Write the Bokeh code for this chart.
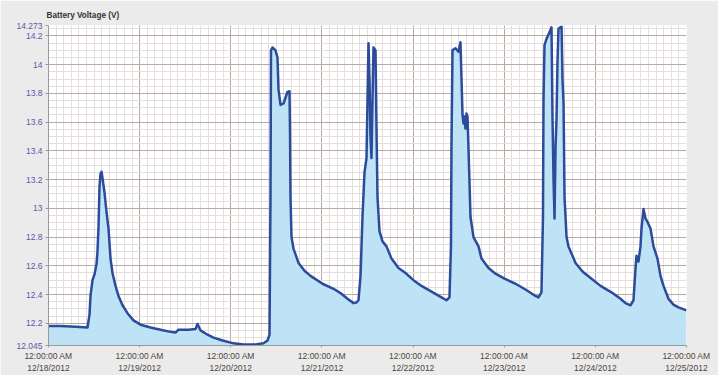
from bokeh.plotting import figure
from bokeh.models import Range1d, FixedTicker
from bokeh.embed import file_html
from bokeh.resources import INLINE

# Hours since 12:00:00 AM 12/18/2012
hours = [0, 3.16, 7.11, 10.27, 10.80, 11.06, 11.59, 12.11, 12.64, 12.90, 13.17, 13.43, 13.69, 13.96,
         14.22, 14.75, 15.27, 15.80, 16.33, 16.85, 17.64, 18.43, 19.49, 20.80, 22.38, 24.23, 26.86,
         29.49, 32.13, 33.44, 34.23, 36.87, 38.71, 39.24, 40.03, 41.87, 43.45, 45.82, 48.72, 51.35,
         54.51, 56.61, 57.67, 58.20, 58.46, 58.59, 58.98, 59.77, 60.30, 60.56, 61.09, 61.88, 62.93,
         63.46, 63.59, 63.72, 63.99, 64.51, 65.83, 67.41, 69.00, 72.15, 75.05, 76.89, 78.73, 80.31,
         81.10, 81.63, 82.16, 82.68, 83.21, 83.74, 84.00, 84.26, 84.53, 84.79, 85.05, 85.32, 85.58,
         86.11, 86.37, 86.63, 87.16, 87.95, 89.00, 90.32, 92.16, 94.01, 96.11, 98.22, 100.85, 103.48,
         104.80, 105.59, 105.98, 106.11, 106.38, 107.17, 107.96, 108.48, 108.75, 109.01, 109.28,
         109.54, 109.80, 110.07, 110.33, 110.59, 111.12, 111.91, 113.23, 114.02, 115.86, 117.70,
         120.07, 122.97, 125.60, 128.23, 129.02, 129.81, 130.21, 130.35, 130.61, 131.14, 131.93,
         132.45, 132.72, 132.98, 133.25, 133.51, 133.77, 134.04, 134.30, 135.09, 135.35, 135.62,
         135.88, 136.41, 136.93, 138.78, 140.62, 142.99, 145.36, 148.25, 150.62, 151.94, 153.25,
         154.04, 154.57, 154.83, 155.36, 155.89, 156.15, 156.68, 157.20, 157.73, 158.52, 159.31,
         160.36, 161.15, 161.94, 163.26, 164.57, 165.89, 166.94, 168.0]

volts = [12.18, 12.18, 12.175, 12.17, 12.26, 12.39, 12.50, 12.54, 12.61, 12.70, 12.87, 13.15, 13.24, 13.255,
         13.21, 13.11, 12.975, 12.86, 12.65, 12.55, 12.46, 12.39, 12.325, 12.27, 12.22, 12.19, 12.17,
         12.155, 12.14, 12.135, 12.155, 12.155, 12.16, 12.195, 12.15, 12.12, 12.10, 12.08, 12.06, 12.052,
         12.052, 12.06, 12.08, 12.12, 13.08, 14.10, 14.12, 14.10, 14.05, 13.83, 13.72, 13.73, 13.81,
         13.815, 13.555, 13.08, 12.80, 12.72, 12.62, 12.565, 12.53, 12.475, 12.44, 12.41, 12.37, 12.34,
         12.345, 12.36, 12.53, 12.94, 13.25, 13.35, 13.76, 14.15, 13.90, 13.49, 13.35, 13.76, 14.12,
         14.10, 13.555, 13.08, 12.84, 12.77, 12.735, 12.65, 12.585, 12.55, 12.50, 12.46, 12.42, 12.38,
         12.36, 12.38, 12.735, 13.42, 14.10, 14.115, 14.09, 14.157, 13.90, 13.66, 13.59,
         13.64, 13.555, 13.66, 13.64, 13.42, 12.94, 12.80, 12.735, 12.65, 12.585, 12.545,
         12.51, 12.475, 12.435, 12.39, 12.38, 12.415, 12.94, 13.76, 14.136, 14.18, 14.225,
         14.26, 13.62, 13.21, 12.93, 13.42, 13.62, 14.03, 14.25, 14.266, 13.90, 13.73,
         13.08, 12.80, 12.735, 12.62, 12.56, 12.51, 12.46, 12.415, 12.37, 12.34, 12.325,
         12.36, 12.58, 12.67, 12.63, 12.735, 12.86, 12.995, 12.93, 12.905, 12.86, 12.735,
         12.65, 12.53, 12.46, 12.37, 12.33, 12.31, 12.30, 12.29]

x_ticks = [0, 24, 48, 72, 96, 120, 144, 168]
x_tick_labels = ["12:00:00 AM\n12/18/2012", "12:00:00 AM\n12/19/2012", "12:00:00 AM\n12/20/2012",
                 "12:00:00 AM\n12/21/2012", "12:00:00 AM\n12/22/2012", "12:00:00 AM\n12/23/2012",
                 "12:00:00 AM\n12/24/2012", "12:00:00 AM\n12/25/2012"]
x_minor = list(range(0, 169, 2))
y_ticks = [12.045, 12.2, 12.4, 12.6, 12.8, 13.0, 13.2, 13.4, 13.6, 13.8, 14.0, 14.2, 14.273]
y_tick_labels = ["12.045", "12.2", "12.4", "12.6", "12.8", "13", "13.2", "13.4", "13.6", "13.8",
                 "14", "14.2", "14.273"]
y_minor = [round(12.05 + 0.05 * i, 2) for i in range(45)]
Y_MIN, Y_MAX = 12.045, 14.273

p = figure(width=718, height=375, output_backend="svg", toolbar_location=None,
           x_range=Range1d(0, 168), y_range=Range1d(Y_MIN, Y_MAX),
           min_border_left=48, min_border_right=32, min_border_top=25, min_border_bottom=24)
p.background_fill_color = "white"
p.border_fill_color = "#ebebeb"
p.outline_line_color = None

p.title.text = "Battery Voltage (V)"
p.title.text_font = "Liberation Sans"
p.title.text_font_size = "8.2px"
p.title.text_font_style = "bold"
p.title.text_color = "#333333"
p.title.align = "left"
p.title.offset = -2
p.title.standoff = 11

xt = FixedTicker(ticks=x_ticks, minor_ticks=x_minor)
yt = FixedTicker(ticks=y_ticks, minor_ticks=y_minor)
p.xaxis.ticker = xt
p.yaxis.ticker = yt
p.xgrid.ticker = xt
p.ygrid.ticker = yt

for g in (p.xgrid, p.ygrid):
    g.grid_line_color = "#b5aaa4"
    g.grid_line_width = 1
    g.minor_grid_line_color = "#e4dedc"
    g.minor_grid_line_width = 1

p.xaxis.major_label_overrides = dict(zip(x_ticks, x_tick_labels))
p.yaxis.major_label_overrides = dict(zip(y_ticks, y_tick_labels))

for ax in (p.xaxis, p.yaxis):
    ax.axis_line_color = "#9a9a9a"
    ax.major_tick_line_color = "#9a9a9a"
    ax.major_tick_in = 0
    ax.major_tick_out = 3
    ax.minor_tick_line_color = None
    ax.major_label_text_font = "Liberation Sans"
    ax.major_label_text_font_size = "8.5px"
    ax.major_label_standoff = 2
p.xaxis.major_label_standoff = 1
p.xaxis.major_tick_out = 2
p.yaxis.major_label_text_color = "#5b59a6"
p.xaxis.major_label_text_color = "#4d4540"

p.varea(x=hours, y1=Y_MIN, y2=volts, fill_color="#bfe3f6")
p.line(hours, volts, line_width=2.5, line_color="#2d4b9b", line_join="round")

open("out.html", "w").write(file_html(p, INLINE))
